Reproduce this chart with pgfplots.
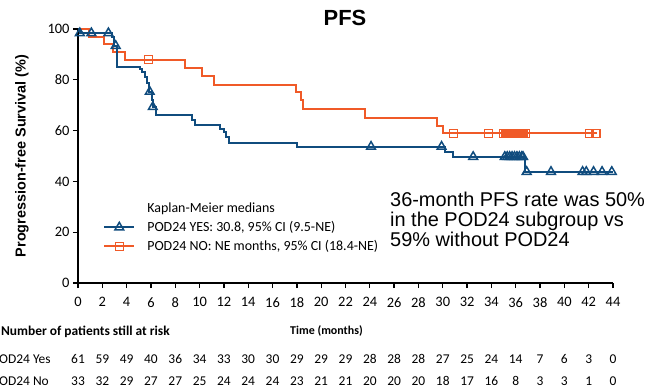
\documentclass[border=0pt]{standalone}
\usepackage{fontspec}
\setmainfont{Carlito}
\newfontfamily\arialf{Liberation Sans}
\usepackage{pgfplots}
\pgfplotsset{compat=1.18}
\definecolor{kmblue}{RGB}{16,76,126}
\definecolor{kmorange}{RGB}{240,90,40}
\begin{document}
\begin{tikzpicture}[x=1bp,y=1bp]
\begin{axis}[
  scale only axis, width=535bp, height=254bp,
  xmin=0, xmax=44, ymin=0, ymax=100,
  axis lines*=left,
  axis line style={line width=1.5bp, black},
  xtick={0,2,...,44}, ytick={0,20,...,100},
  tick align=outside, major tick length=5bp,
  tick style={line width=1.3bp, black},
  tick label style={font=\fontsize{14.5}{16}\selectfont},
  /pgf/number format/assume math mode=true,
  xticklabel style={yshift=-6bp},
  clip=false,
  legend style={at={(axis description cs:0.0473,0.3315)}, anchor=north west,
    draw=none, fill=none, inner sep=0pt, outer sep=0pt,
    font=\fontsize{14}{16}\selectfont, column sep=10bp, row sep=0pt,
    cells={anchor=west, minimum height=19bp, inner sep=0pt}},
  legend cell align=left,
  legend image code/.code={
    \draw[#1,mark=none] (0bp,0bp) -- (30bp,0bp);
    \draw[#1,only marks] plot coordinates {(15bp,0bp)};
  },
]
% POD24 No
\addplot[const plot, kmorange, line width=2bp, forget plot] coordinates {
 (0,100) (0.9,97.0) (2.1,93.9) (2.9,90.9) (3.9,87.9) (8.8,84.6) (10.2,81.4)
 (11.2,78.0) (17.9,75.3) (18.3,72.0) (18.5,68.6) (23.6,64.8) (29.5,62.0)
 (30.0,58.9) (42.7,58.9)};
\addplot[only marks, mark=square, mark size=4bp, kmorange, mark options={line width=1.5bp}, forget plot] coordinates {
 (5.8,87.9) (30.9,58.9) (33.75,58.9) (35.0,58.9) (35.15,58.9) (35.3,58.9) (35.45,58.9)
 (35.6,58.9) (35.75,58.9) (35.9,58.9) (36.05,58.9) (36.2,58.9) (36.35,58.9) (36.5,58.9)
 (36.65,58.9) (36.8,58.9) (42.05,58.9) (42.6,58.9)};
% POD24 Yes
\addplot[const plot, kmblue, line width=2bp, forget plot] coordinates {
 (0,100) (0.2,98.4) (2.8,96.7) (3.0,93.4) (3.2,85.2) (5.1,84.1) (5.3,83.2)
 (5.5,81.2) (5.7,78.6) (5.86,75.3) (6.05,72.0) (6.13,69.3) (6.4,66.1)
 (9.35,64.2) (9.6,62.2) (11.7,60.6) (12.0,59.6) (12.2,57.5) (12.4,55.2)
 (18.05,53.7) (30.2,51.7) (30.8,49.7) (36.8,43.8) (44.0,43.8)};
\addplot[only marks, mark=triangle, mark size=5bp, kmblue, mark options={line width=1.5bp}, forget plot] coordinates {
 (0.15,98.4) (1.1,98.4) (2.5,98.4) (3.1,93.4) (5.9,75.3) (6.15,69.3)
 (24.1,53.7) (29.9,53.7) (32.5,49.7) (35.1,49.7) (35.3,49.7) (35.5,49.7)
 (35.7,49.7) (35.9,49.7) (36.1,49.7) (36.3,49.7) (36.5,49.7) (36.6,49.7)
 (36.9,43.8) (38.9,43.8) (41.5,43.8)
 (41.8,43.8) (42.4,43.8) (43.1,43.8) (43.9,43.8)};
\addlegendimage{empty legend}
\addlegendentry{Kaplan-Meier medians}
\addlegendimage{kmblue, line width=2bp, mark=triangle, mark size=5bp, mark options={line width=1.5bp}}
\addlegendentry{POD24 YES: 30.8, 95\% CI (9.5-NE)}
\addlegendimage{kmorange, line width=2bp, mark=square, mark size=4bp, mark options={line width=1.5bp}}
\addlegendentry{POD24 NO: NE months, 95\% CI (18.4-NE)}
\end{axis}
% title and labels
\node[anchor=base, font=\arialf\bfseries\fontsize{22}{24}\selectfont, inner sep=0pt] at (267,258) {PFS};
\node[rotate=90, anchor=center, font=\arialf\bfseries\fontsize{14.5}{16}\selectfont, inner sep=0pt] at (-56,127) {Progression-free Survival (\%)};
\node[anchor=base, font=\bfseries\fontsize{12}{14}\selectfont, inner sep=0pt] at (248.5,-51) {Time (months)};
\node[anchor=base east, font=\bfseries\fontsize{13.5}{15}\selectfont, inner sep=0pt] at (92,-52) {Number of patients still at risk};
% annotation
\begin{scope}[every node/.style={anchor=base west, inner sep=0pt, font=\arialf\fontsize{20}{20}\selectfont}]
\node at (312,77) {36-month PFS rate was 50\%};
\node at (312,57) {in the POD24 subgroup vs};
\node at (312,37) {59\% without POD24};
\end{scope}
% at risk table
\begin{scope}[every node/.style={anchor=base, inner sep=0pt, font=\fontsize{13.5}{15}\selectfont}]
\node[anchor=base west] at (-86,-80) {POD24 Yes};
\node[anchor=base west] at (-86,-102) {POD24 No};
\foreach \n [count=\i from 0] in {61,59,49,40,36,34,33,30,30,29,29,29,28,28,28,27,25,24,14,7,6,3,0}
  \node at (\i*24.3182,-80) {\n};
\foreach \n [count=\i from 0] in {33,32,29,27,27,25,24,24,24,23,21,21,20,20,20,18,17,16,8,3,3,1,0}
  \node at (\i*24.3182,-102) {\n};
\end{scope}
\pgfresetboundingbox
\useasboundingbox (-78,-105) rectangle (572,283);
\end{tikzpicture}
\end{document}
